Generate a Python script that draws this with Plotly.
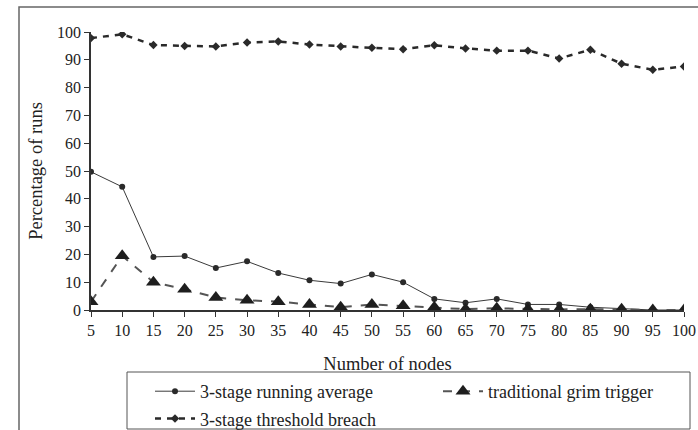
import plotly.graph_objects as go

nodes = [5, 10, 15, 20, 25, 30, 35, 40, 45, 50, 55, 60, 65, 70, 75, 80, 85, 90, 95, 100]
running_avg = [49.7, 44.3, 19.1, 19.4, 15.1, 17.5, 13.3, 10.7, 9.5, 12.8, 10.0, 4.0, 2.6, 4.0, 2.0, 2.0, 1.0, 0.5, 0.0, 0.0]
grim_trigger = [3.0, 19.5, 10.0, 7.5, 4.5, 3.5, 3.0, 2.0, 1.0, 2.0, 1.5, 1.0, 0.3, 0.6, 0.3, 0.2, 0.3, 0.3, 0.0, 0.0]
threshold_breach = [97.8, 99.2, 95.3, 95.0, 94.8, 96.2, 96.6, 95.5, 94.8, 94.3, 93.8, 95.2, 94.1, 93.3, 93.3, 90.5, 93.6, 88.6, 86.4, 87.6]
y_ticks = [0, 10, 20, 30, 40, 50, 60, 70, 80, 90, 100]

FONT = "Liberation Serif"
W, H = 698, 430
L, R, T, B = 91, 14, 32, 120
pw = W - L - R
ph = H - T - B


def px_x(p):
    return (p - L) / pw


def px_y(p):
    return (H - B - p) / ph


fig = go.Figure()
fig.add_trace(go.Scatter(
    x=nodes, y=running_avg, name="3-stage running average", mode="lines+markers",
    line=dict(color="#3a3a3a", width=1),
    marker=dict(symbol="circle", size=6, color="#2a2a2a"),
    legend="legend", legendgroup="a",
))
fig.add_trace(go.Scatter(
    x=nodes, y=grim_trigger, name="traditional grim trigger", mode="lines+markers",
    line=dict(color="#555555", width=2, dash="dash"),
    marker=dict(symbol="triangle-up", size=13, color="#1e1e1e"),
    legend="legend2", legendgroup="b",
))
fig.add_trace(go.Scatter(
    x=nodes, y=threshold_breach, name="3-stage threshold breach", mode="lines+markers",
    line=dict(color="#2a2a2a", width=2.5, dash="6px,6px"),
    marker=dict(symbol="diamond", size=6.5, color="#2a2a2a"),
    legend="legend", legendgroup="c",
))

leg_common = dict(
    orientation="v", xanchor="left", yanchor="top",
    borderwidth=0, bgcolor="rgba(0,0,0,0)", itemwidth=40,
    font=dict(size=18, family=FONT, color="#222222"),
    tracegroupgap=1,
)

fig.update_layout(
    width=W, height=H,
    margin=dict(l=L, r=R, t=T, b=B, autoexpand=False),
    paper_bgcolor="white", plot_bgcolor="white",
    showlegend=True,
    font=dict(family=FONT, color="#222222", size=16),
    xaxis=dict(
        range=[5, 100], tickmode="array", tickvals=nodes,
        showline=True, linecolor="#333333", linewidth=1.5,
        ticks="outside", ticklen=5, tickcolor="#333333",
        showgrid=False, zeroline=False,
        tickfont=dict(size=16, family=FONT),
        title=dict(text="Number of nodes", font=dict(size=18.5, family=FONT), standoff=19),
    ),
    yaxis=dict(
        range=[0, 100], tickmode="array", tickvals=y_ticks,
        showline=True, linecolor="#333333", linewidth=1.5,
        ticks="outside", ticklen=5, tickcolor="#333333",
        showgrid=False, zeroline=False,
        tickfont=dict(size=16, family=FONT),
        title=dict(text="Percentage of runs", font=dict(size=18.5, family=FONT), standoff=10),
    ),
    legend=dict(x=px_x(150), y=px_y(373), **leg_common),
    legend2=dict(x=px_x(438), y=px_y(373), **leg_common),
    shapes=[
        dict(type="rect", xref="paper", yref="paper",
             x0=px_x(19), x1=px_x(W + 5), y0=px_y(H + 5), y1=px_y(7),
             line=dict(color="#666666", width=1.5), fillcolor="rgba(0,0,0,0)", layer="below"),
        dict(type="rect", xref="paper", yref="paper",
             x0=px_x(127), x1=px_x(690), y0=px_y(429), y1=px_y(372),
             line=dict(color="#555555", width=1), fillcolor="rgba(0,0,0,0)", layer="below"),
    ],
)

fig.write_html("out.html", config={"displayModeBar": False},
               post_script="document.body.style.margin='0';document.body.style.padding='0';")
